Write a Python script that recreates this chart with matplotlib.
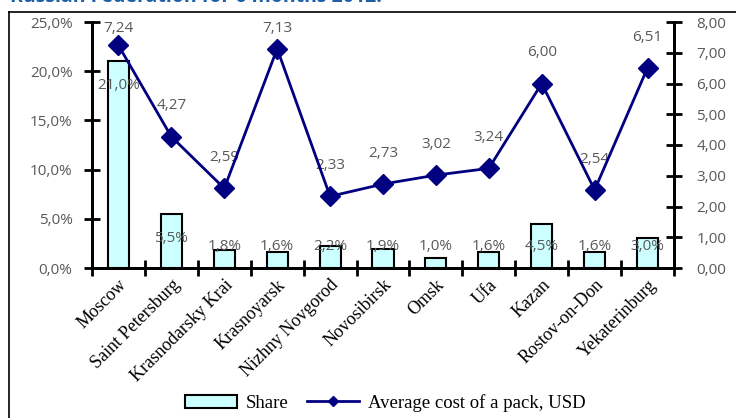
import matplotlib.pyplot as plt
from matplotlib.lines import Line2D
from matplotlib.patches import Patch
import numpy as np

# Données
cities = ["Moscow", "Saint Petersburg", "Krasnodarsky Krai", "Krasnoyarsk",
          "Nizhny Novgorod", "Novosibirsk", "Omsk", "Ufa", "Kazan",
          "Rostov-on-Don", "Yekaterinburg"]
share = [21.0, 5.5, 1.8, 1.6, 2.2, 1.9, 1.0, 1.6, 4.5, 1.6, 3.0]
cost = [7.24, 4.27, 2.59, 7.13, 2.33, 2.73, 3.02, 3.24, 6.00, 2.54, 6.51]
share_ticks = [0, 5, 10, 15, 20, 25]
cost_ticks = [0, 1, 2, 3, 4, 5, 6, 7, 8]

gray = "#595959"
navy = "#000080"
serif = "Liberation Serif"
sans = "Open Sans"

fig = plt.figure(figsize=(7.36, 4.18), dpi=100)

# cadre extérieur (gauche + haut) et bout du titre coupé
fig.add_artist(Line2D([9 / 736, 9 / 736], [0, 1 - 12 / 418], transform=fig.transFigure,
                      color="black", linewidth=1.2))
fig.add_artist(Line2D([9 / 736, 1], [1 - 12 / 418, 1 - 12 / 418], transform=fig.transFigure,
                      color="black", linewidth=1.2))
fig.text(10 / 736, 1 - 2 / 418, "Russian Federation for 6 months 2012.",
         color="#1F5FA8", fontsize=14, fontweight="bold", family=sans,
         va="baseline", ha="left")

ax = fig.add_axes([92 / 736, 1 - 268 / 418, (674 - 92) / 736, (268 - 22) / 418])
ax2 = ax.twinx()

x = np.arange(len(cities))
ax.bar(x, share, width=0.4, color="#CCFFFF", edgecolor="black", linewidth=1.5, zorder=2)
ax.set_xlim(-0.5, len(cities) - 0.5)
ax.set_ylim(0, 25)
ax.set_yticks(share_ticks)
ax.set_yticklabels([f"{t:.1f}%".replace(".", ",") for t in share_ticks],
                   color=gray, fontsize=11, family=sans)

# étiquettes des parts
for xi, v in zip(x, share):
    ax.text(xi, max(v - 2.5, 2.2), f"{v:.1f}%".replace(".", ","), ha="center", va="center",
            color=gray, fontsize=11, family=sans, zorder=3)

ax.set_xticks(np.arange(-0.5, len(cities), 1.0))
ax.set_xticklabels([])
ax.set_xticks(x, minor=True)
ax.set_xticklabels(cities, minor=True, rotation=45, ha="right", rotation_mode="anchor",
                   fontsize=13, family=serif)
ax.tick_params(axis="x", which="minor", length=0, pad=6)
ax.tick_params(axis="x", which="major", direction="inout", length=12, width=2)
ax.tick_params(axis="y", direction="inout", length=12, width=2, pad=8)

ax2.plot(x, cost, color=navy, linewidth=2, marker="D", markersize=10, zorder=4)
ax2.set_ylim(0, 8)
ax2.set_yticks(cost_ticks)
ax2.set_yticklabels([f"{t:.2f}".replace(".", ",") for t in cost_ticks],
                    color=gray, fontsize=11, family=sans)
ax2.tick_params(axis="y", direction="inout", length=12, width=2, pad=10)

for xi, v in zip(x, cost):
    ax2.text(xi, min(v + 1.0, 7.8), f"{v:.2f}".replace(".", ","), ha="center", va="center",
             color=gray, fontsize=11, family=sans, clip_on=False)

for a in (ax, ax2):
    a.spines["top"].set_visible(False)
    for s in ("left", "right", "bottom"):
        a.spines[s].set_linewidth(2)

handles = [Patch(facecolor="#CCFFFF", edgecolor="black", linewidth=1.5),
           Line2D([0], [0], color=navy, linewidth=2, marker="D", markersize=5)]
fig.legend(handles, ["Share", "Average cost of a pack, USD"], loc="center",
           bbox_to_anchor=(385 / 736, 1 - 403 / 418), ncol=2, frameon=False,
           prop={"family": serif, "size": 13.5}, handlelength=2.8, columnspacing=1.0,
           handletextpad=0.45)

fig.savefig("out.png", dpi=100)
